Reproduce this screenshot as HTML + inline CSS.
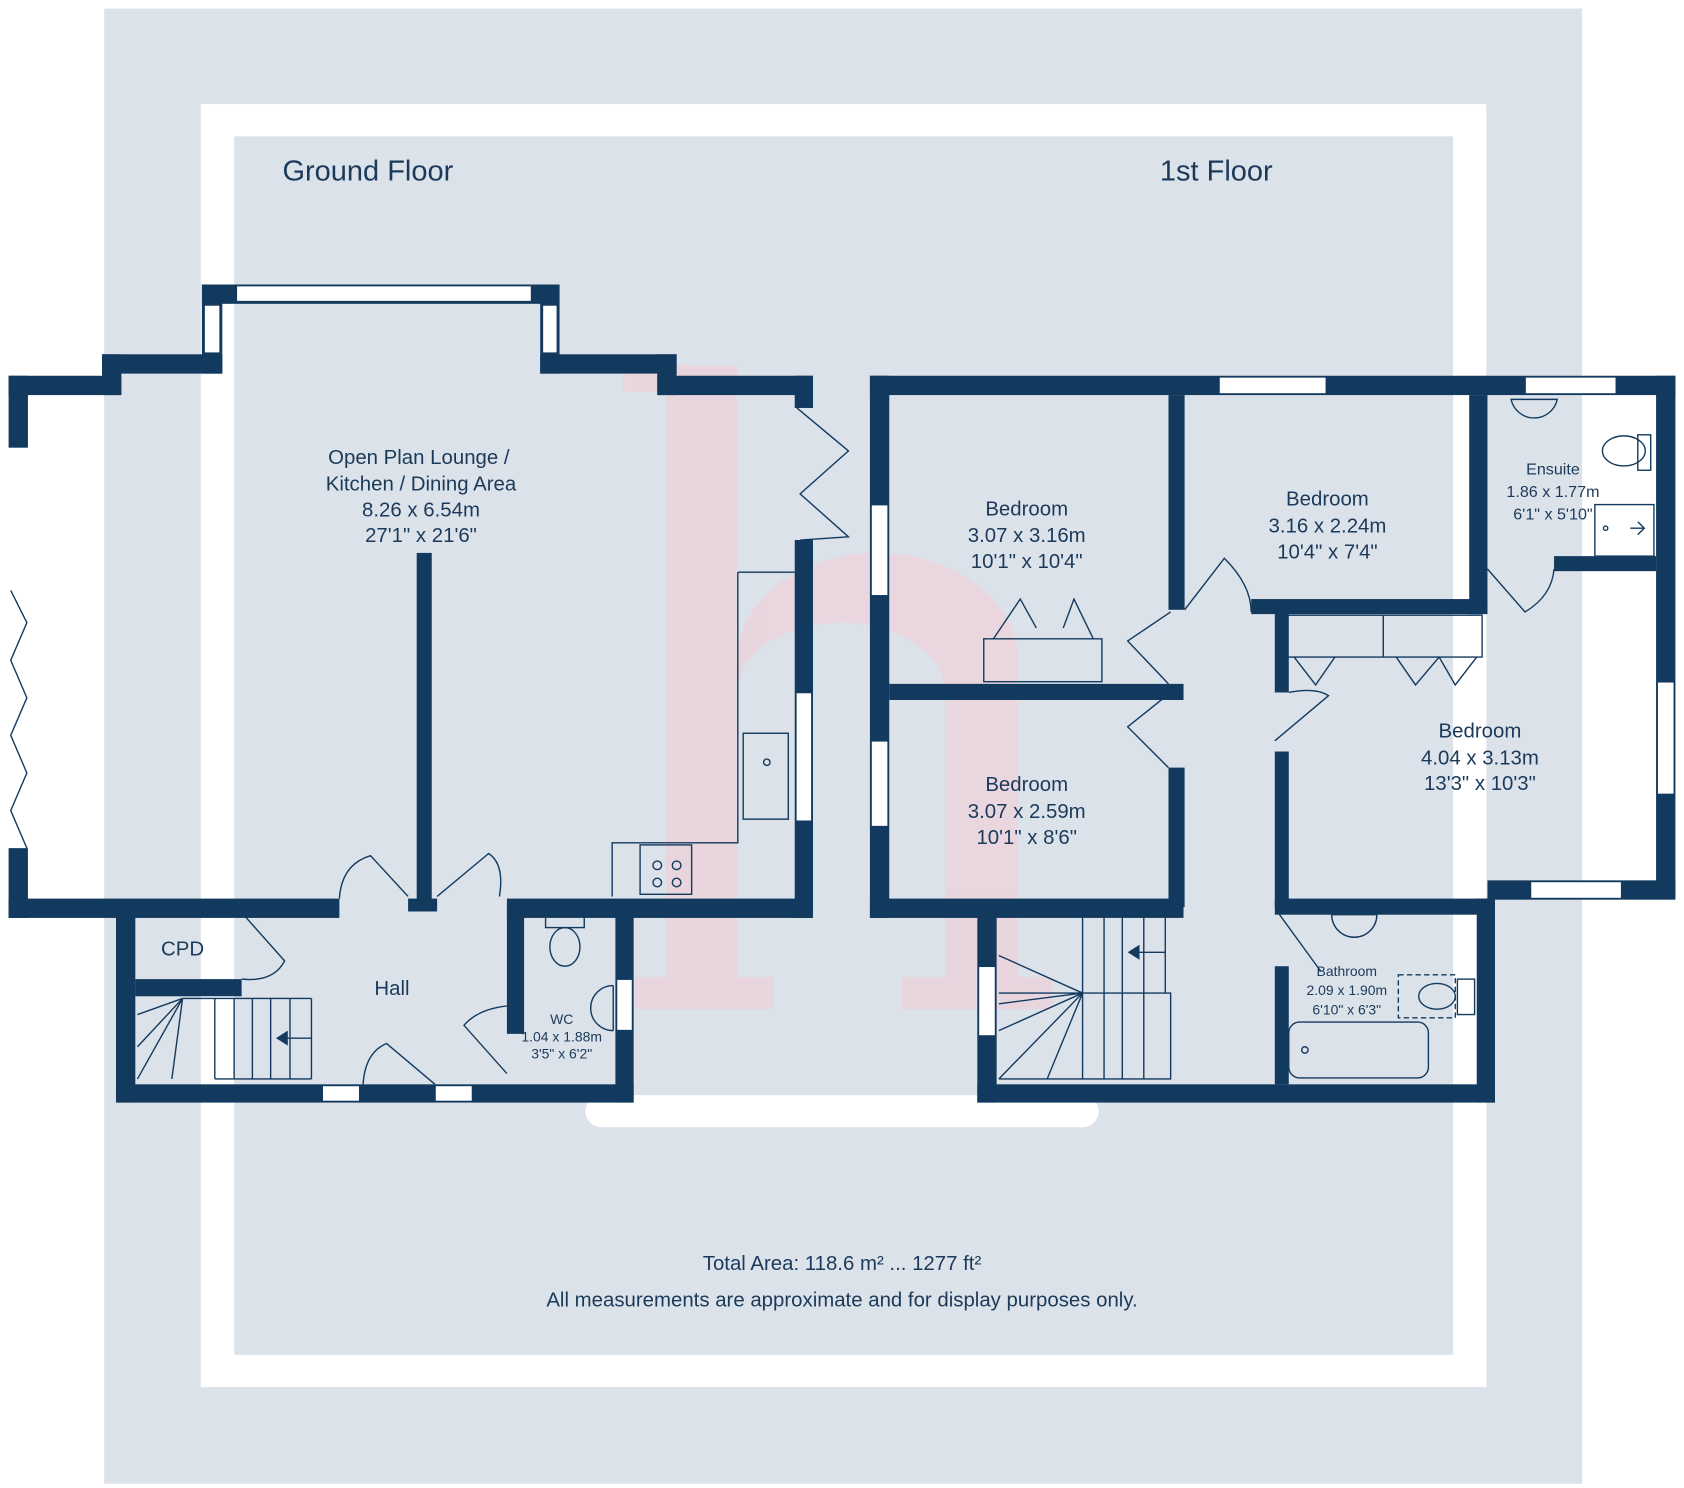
<!DOCTYPE html>
<html><head><meta charset="utf-8"><style>
html,body{margin:0;padding:0;background:#fff}
svg{display:block}
text{font-family:"Liberation Sans",Arial,sans-serif;fill:#1b3a5a}
</style></head><body>
<svg width="1684" height="1488" viewBox="0 0 1568 1386" preserveAspectRatio="none" xmlns="http://www.w3.org/2000/svg">
<rect x="0" y="0" width="1568" height="1386" fill="#fff"/>
<rect x="97" y="8" width="1376" height="1374" fill="#dce2ea"/>
<rect x="187" y="97" width="1197" height="1195" fill="#fff"/>
<rect x="218" y="127" width="1135" height="1135" fill="#dce2ea"/>
<rect x="545" y="1020" width="478" height="30" rx="15" fill="#fff"/>

<!-- watermark -->
<g fill="#f7c9d2" opacity="0.5">
<rect x="620" y="340" width="66" height="600"/>
<path d="M686 615 A131 100 0 0 1 948 615 L948 940 L880 940 L880 645 A97 65 0 0 0 686 645 Z"/>
<rect x="580" y="340" width="106" height="25"/>
<rect x="590" y="910" width="130" height="30"/>
<rect x="840" y="910" width="140" height="30"/>
</g>

<g fill="#123a5e">
<rect x="8" y="350" width="105" height="18"/>
<rect x="95" y="330" width="18" height="38"/>
<rect x="95" y="330" width="112" height="18"/>
<rect x="188" y="265" width="19" height="83"/>
<rect x="188" y="265" width="333" height="18"/>
<rect x="503" y="265" width="18" height="83"/>
<rect x="503" y="330" width="127" height="18"/>
<rect x="612" y="330" width="18" height="38"/>
<rect x="612" y="350" width="145" height="18"/>
<rect x="740" y="350" width="17" height="30"/>
<rect x="740" y="503" width="17" height="352"/>
<rect x="8" y="837" width="308" height="18"/>
<rect x="472" y="837" width="285" height="18"/>
<rect x="8" y="350" width="18" height="67"/>
<rect x="8" y="790" width="18" height="65"/>
<rect x="388" y="515" width="14" height="332"/>
<rect x="380" y="837" width="27" height="12"/>
<rect x="108" y="845" width="18" height="182"/>
<rect x="108" y="1010" width="482" height="17"/>
<rect x="573" y="845" width="17" height="182"/>
<rect x="472" y="845" width="16" height="118"/>
<rect x="126" y="912" width="99" height="16"/>
<rect x="810" y="350" width="750" height="18"/>
<rect x="810" y="350" width="18" height="505"/>
<rect x="1542" y="350" width="18" height="485"/>
<rect x="1385" y="820" width="175" height="18"/>
<rect x="810" y="837" width="292" height="18"/>
<rect x="1187" y="837" width="205" height="15"/>
<rect x="1375" y="837" width="17" height="190"/>
<rect x="910" y="845" width="18" height="182"/>
<rect x="910" y="1010" width="482" height="17"/>
<rect x="1088" y="368" width="15" height="200"/>
<rect x="828" y="637" width="274" height="15"/>
<rect x="1088" y="715" width="15" height="130"/>
<rect x="1165" y="558" width="220" height="14"/>
<rect x="1368" y="368" width="17" height="204"/>
<rect x="1447" y="518" width="95" height="14"/>
<rect x="1187" y="570" width="13" height="75"/>
<rect x="1187" y="700" width="13" height="145"/>
<rect x="1187" y="900" width="13" height="110"/>
</g>

<g fill="#fff" stroke="#123a5e" stroke-width="1.5">
<rect x="220" y="266" width="275" height="15"/>
<rect x="190" y="284" width="15" height="45"/>
<rect x="505" y="284" width="14" height="45"/>
<rect x="741" y="645" width="15" height="120"/>
<rect x="300" y="1011" width="35" height="15"/>
<rect x="405" y="1011" width="35" height="15"/>
<rect x="574" y="912" width="15" height="48"/>
<rect x="1135" y="351" width="100" height="16"/>
<rect x="1420" y="351" width="85" height="16"/>
<rect x="811" y="470" width="16" height="85"/>
<rect x="811" y="690" width="16" height="80"/>
<rect x="1543" y="635" width="16" height="105"/>
<rect x="1425" y="821" width="85" height="16"/>
<rect x="911" y="900" width="16" height="65"/>
</g>

<g fill="none" stroke="#123a5e" stroke-width="1.3">
<path d="M10 550 L25 580 L10 615 L25 650 L10 685 L25 720 L10 755 L25 790"/>
<path d="M742 380 L790 420 L745 460 L790 500 L745 503"/>
<path d="M687 533 L740 533 M687 533 L687 785 L570 785 L570 835"/>
<rect x="692" y="683" width="42" height="80"/>
<circle cx="714" cy="710" r="3"/>
<rect x="596" y="787" width="48" height="46"/>
<circle cx="612" cy="806" r="4"/><circle cx="630" cy="806" r="4"/><circle cx="612" cy="822" r="4"/><circle cx="630" cy="822" r="4"/>
<path d="M316 837 Q318 805 345 797 L380 835 M465 835 Q470 805 455 795 L407 835"/>
<path d="M225 850 L265 895 Q255 915 225 912"/>
<path d="M338 1010 Q340 980 360 972 L405 1010"/>
<path d="M472 1000 L432 955 Q445 940 472 937"/>
<rect x="508" y="852" width="36" height="12"/><ellipse cx="526" cy="882" rx="14" ry="18"/>
<path d="M571 918 L571 960 M571 918 A20 20 0 0 0 571 960"/>
<path d="M128 1005 L170 930 M128 975 L170 930 L128 945 M170 930 L160 1005 M170 930 L200 930 L200 1005 M218 930 L218 1005 M235 930 L235 1005 M252 930 L252 1005 M270 930 L270 1005 M290 930 L290 1005 M200 930 L290 930 M200 1005 L290 1005"/>
<path d="M290 967 L262 967"/>
<path d="M916 595 L1026 595 L1026 635 L916 635 Z M925 595 L950 558 L965 585 M990 585 L1000 558 L1018 595"/>
<path d="M1088 637 L1050 597 L1090 570 M1088 715 L1050 677 L1090 645"/>
<path d="M1103 568 L1140 520 Q1165 545 1165 570"/>
<path d="M1187 690 L1237 648 Q1225 640 1200 645"/>
<path d="M1198 573 L1380 573 L1380 612 L1198 612 Z M1288 573 L1288 612 M1205 612 L1225 638 L1243 612 M1300 612 L1318 638 L1340 612 M1340 612 L1355 638 L1375 612"/>
<path d="M1385 530 L1420 570 Q1445 555 1447 530"/>
<path d="M1190 850 L1230 905"/>
<path d="M1407 372 L1450 372 A22 22 0 0 1 1407 372 Z"/>
<rect x="1525" y="405" width="12" height="33"/><ellipse cx="1512" cy="420" rx="20" ry="14"/>
<rect x="1485" y="470" width="55" height="48"/><path d="M1518 492 L1530 492 M1525 486 L1531 492 L1525 498"/><circle cx="1495" cy="492" r="2"/>
<path d="M1240 852 L1282 852 A21 21 0 0 1 1240 852 Z"/>
<rect x="1302" y="908" width="53" height="40" stroke-dasharray="5,3"/><rect x="1357" y="912" width="16" height="33"/><ellipse cx="1338" cy="928" rx="17" ry="12"/>
<rect x="1200" y="952" width="130" height="52" rx="10"/><circle cx="1215" cy="978" r="3"/>
<path d="M930 1005 L1008 925 M930 960 L1008 925 L930 935 M1008 925 L975 1005 M1008 925 L1008 1005 M1008 925 L930 925 M1008 850 L1085 850 L1085 925 M1008 850 L1008 925 M1028 850 L1028 925 M1045 850 L1045 925 M1065 850 L1065 925 M1008 925 L1090 925 L1090 1005 L930 1005 M1028 925 L1028 1005 M1045 925 L1045 1005 M1065 925 L1065 1005 M930 890 L1008 925"/>
<path d="M1085 887 L1055 887"/>
</g>
<path d="M257 967 L268 960 L268 974 Z" fill="#123a5e"/>
<path d="M1050 887 L1061 880 L1061 894 Z" fill="#123a5e"/>

<text x="263" y="168" font-size="27">Ground Floor</text>
<text x="1080" y="168" font-size="27">1st Floor</text>
<g font-size="19" text-anchor="middle">
<text x="390" y="432">Open Plan Lounge /</text>
<text x="392" y="457">Kitchen / Dining Area</text>
<text x="392" y="481">8.26 x 6.54m</text>
<text x="392" y="505">27'1" x 21'6"</text>
<text x="956" y="480">Bedroom</text>
<text x="956" y="505">3.07 x 3.16m</text>
<text x="956" y="529">10'1" x 10'4"</text>
<text x="1236" y="471">Bedroom</text>
<text x="1236" y="496">3.16 x 2.24m</text>
<text x="1236" y="520">10'4" x 7'4"</text>
<text x="956" y="737">Bedroom</text>
<text x="956" y="762">3.07 x 2.59m</text>
<text x="956" y="786">10'1" x 8'6"</text>
<text x="1378" y="687">Bedroom</text>
<text x="1378" y="712">4.04 x 3.13m</text>
<text x="1378" y="736">13'3" x 10'3"</text>
<text x="170" y="890">CPD</text>
<text x="365" y="927">Hall</text>
<text x="784" y="1183">Total Area: 118.6 m² ... 1277 ft²</text>
<text x="784" y="1217">All measurements are approximate and for display purposes only.</text>
</g>
<g font-size="15" text-anchor="middle">
<text x="1446" y="442">Ensuite</text>
<text x="1446" y="463">1.86 x 1.77m</text>
<text x="1446" y="484">6'1" x 5'10"</text>
</g>
<g font-size="13" text-anchor="middle">
<text x="1254" y="909">Bathroom</text>
<text x="1254" y="927">2.09 x 1.90m</text>
<text x="1254" y="945">6'10" x 6'3"</text>
<text x="523" y="954">WC</text>
<text x="523" y="970">1.04 x 1.88m</text>
<text x="523" y="986">3'5" x 6'2"</text>
</g>
</svg>
</body></html>
